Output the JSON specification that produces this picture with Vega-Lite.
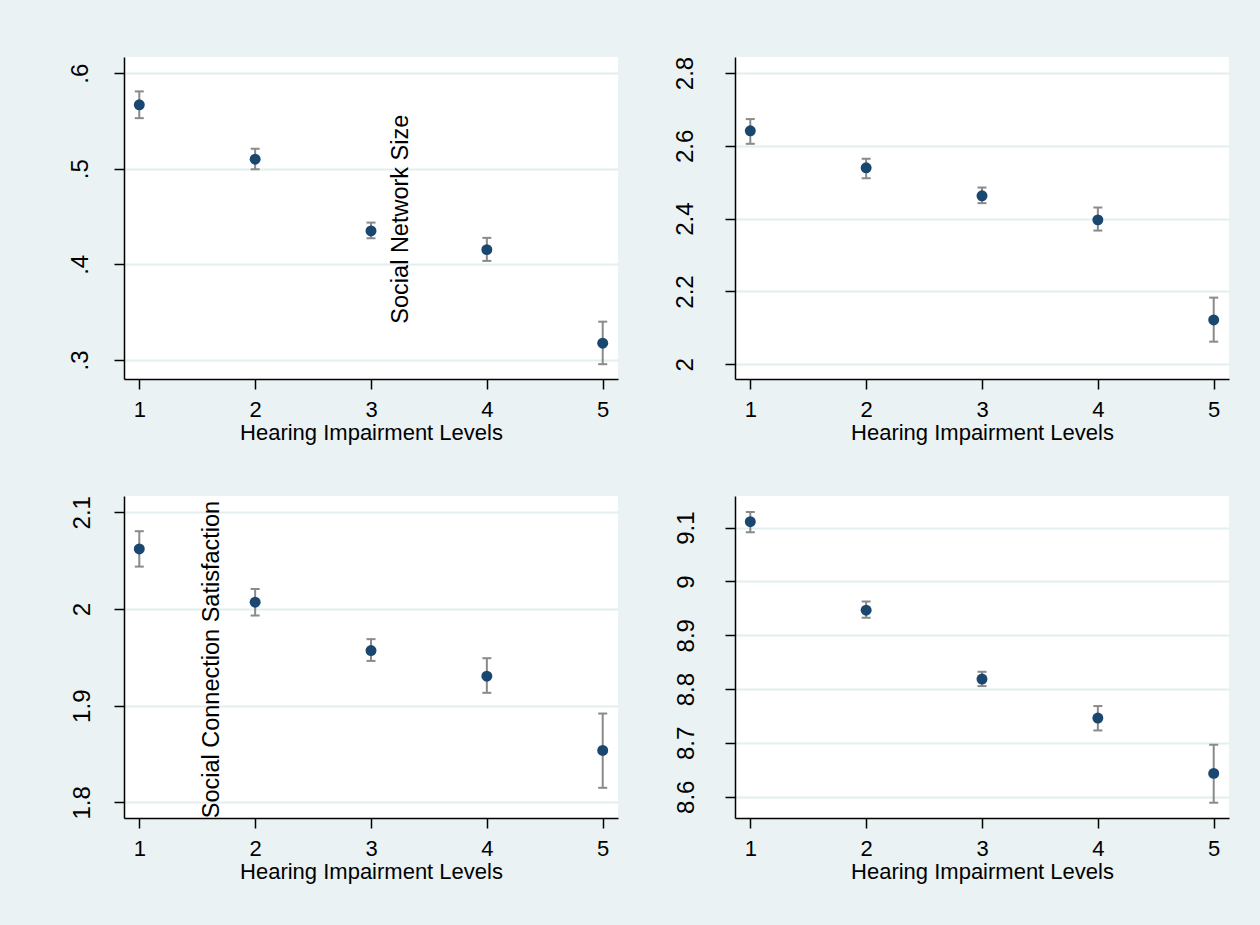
{
  "$schema": "https://vega.github.io/schema/vega-lite/v6.json",
  "background": "#eaf2f3",
  "autosize": {"type": "pad"},
  "padding": {"left": 67, "top": 56, "right": 32, "bottom": 46},
  "config": {
    "view": {"stroke": null, "fill": "white"},
    "font": "Liberation Sans",
    "axis": {
      "domainColor": "#000000",
      "domainWidth": 1.5,
      "tickColor": "#000000",
      "tickWidth": 1.5,
      "tickSize": 10,
      "labelColor": "#000000",
      "labelFont": "Liberation Sans",
      "titleFont": "Liberation Sans",
      "titleColor": "#000000",
      "titleFontWeight": "normal",
      "labelOverlap": false,
      "labelFlush": false
    }
  },
  "datasets": {
    "p1": [
      {"level": 1, "mean": 0.567, "lo": 0.553, "hi": 0.581},
      {"level": 2, "mean": 0.510, "lo": 0.4995, "hi": 0.521},
      {"level": 3, "mean": 0.435, "lo": 0.4273, "hi": 0.4437},
      {"level": 4, "mean": 0.4154, "lo": 0.4036, "hi": 0.4277},
      {"level": 5, "mean": 0.3175, "lo": 0.2955, "hi": 0.340}
    ],
    "p2": [
      {"level": 1, "mean": 2.6414, "lo": 2.6056, "hi": 2.6735},
      {"level": 2, "mean": 2.5397, "lo": 2.5113, "hi": 2.5644},
      {"level": 3, "mean": 2.4627, "lo": 2.4426, "hi": 2.4855},
      {"level": 4, "mean": 2.3967, "lo": 2.3673, "hi": 2.4306},
      {"level": 5, "mean": 2.1218, "lo": 2.0621, "hi": 2.1831}
    ],
    "p3": [
      {"level": 1, "mean": 2.0621, "lo": 2.0438, "hi": 2.0804},
      {"level": 2, "mean": 2.0070, "lo": 1.9932, "hi": 2.0207},
      {"level": 3, "mean": 1.9570, "lo": 1.9463, "hi": 1.9688},
      {"level": 4, "mean": 1.9305, "lo": 1.9133, "hi": 1.9491},
      {"level": 5, "mean": 1.8537, "lo": 1.8151, "hi": 1.8919}
    ],
    "p4": [
      {"level": 1, "mean": 9.1111, "lo": 9.0914, "hi": 9.1291},
      {"level": 2, "mean": 8.9467, "lo": 8.9324, "hi": 8.9627},
      {"level": 3, "mean": 8.8186, "lo": 8.8056, "hi": 8.8322},
      {"level": 4, "mean": 8.7462, "lo": 8.7232, "hi": 8.7685},
      {"level": 5, "mean": 8.6434, "lo": 8.5889, "hi": 8.6966}
    ]
  },
  "columns": 2,
  "spacing": 117,
  "bounds": "flush",
  "concat": [
    {
      "width": 494, "height": 322,
      "data": {"name": "p1"},
      "encoding": {
        "x": {"field": "level", "type": "quantitative",
          "scale": {"domain": [0.868, 5.132], "nice": false, "zero": false},
          "axis": {"values": [1, 2, 3, 4, 5], "format": "d", "labelFontSize": 22, "labelPadding": 10, "labelAngle": 0, "grid": false, "title": "Hearing Impairment Levels", "titleFontSize": 22, "titlePadding": 2}}
      },
      "layer": [
        {"mark": {"type": "rule", "color": "#8a8a8a", "strokeWidth": 2},
         "encoding": {
           "y": {"field": "lo", "type": "quantitative", "scale": {"domain": [0.280, 0.617], "nice": false, "zero": false},
             "axis": {"values": [0.3, 0.4, 0.5, 0.6], "labelExpr": "substring(format(datum.value, '.1f'), 1)", "labelAngle": 270, "labelAlign": "center", "labelBaseline": "alphabetic", "labelPadding": 27, "labelFontSize": 24, "grid": true, "gridColor": "#e4edf0", "gridWidth": 2, "title": null}},
           "y2": {"field": "hi"}}},
        {"mark": {"type": "tick", "orient": "horizontal", "color": "#8a8a8a", "size": 9, "thickness": 2, "opacity": 1},
         "encoding": {"y": {"field": "lo", "type": "quantitative", "scale": {"domain": [0.280, 0.617], "nice": false, "zero": false}}}},
        {"mark": {"type": "tick", "orient": "horizontal", "color": "#8a8a8a", "size": 9, "thickness": 2, "opacity": 1},
         "encoding": {"y": {"field": "hi", "type": "quantitative", "scale": {"domain": [0.280, 0.617], "nice": false, "zero": false}}}},
        {"mark": {"type": "point", "shape": "circle", "filled": true, "size": 120, "color": "#1a476f", "opacity": 1},
         "encoding": {"y": {"field": "mean", "type": "quantitative", "scale": {"domain": [0.280, 0.617], "nice": false, "zero": false}}}},
        {"data": {"values": [{"tx": 3.256, "ty": 0.4473, "label": "Social Network Size"}]},
         "mark": {"type": "text", "angle": 270, "align": "center", "baseline": "middle", "fontSize": 23.5, "color": "#000000", "font": "Liberation Sans"},
         "encoding": {
           "x": {"field": "tx", "type": "quantitative"},
           "y": {"field": "ty", "type": "quantitative", "scale": {"domain": [0.280, 0.617], "nice": false, "zero": false}},
           "text": {"field": "label"}}}
      ]
    },
    {
      "width": 494, "height": 322,
      "data": {"name": "p2"},
      "encoding": {
        "x": {"field": "level", "type": "quantitative",
          "scale": {"domain": [0.868, 5.132], "nice": false, "zero": false},
          "axis": {"values": [1, 2, 3, 4, 5], "format": "d", "labelFontSize": 22, "labelPadding": 10, "labelAngle": 0, "grid": false, "title": "Hearing Impairment Levels", "titleFontSize": 22, "titlePadding": 2}}
      },
      "layer": [
        {"mark": {"type": "rule", "color": "#8a8a8a", "strokeWidth": 2},
         "encoding": {
           "y": {"field": "lo", "type": "quantitative", "scale": {"domain": [1.9596, 2.844], "nice": false, "zero": false},
             "axis": {"values": [2, 2.2, 2.4, 2.6, 2.8], "format": "~g", "labelAngle": 270, "labelAlign": "center", "labelBaseline": "alphabetic", "labelPadding": 33, "labelFontSize": 24, "grid": true, "gridColor": "#e4edf0", "gridWidth": 2, "title": null,
               "encode": {"labels": {"update": {"dy": {"signal": "length(datum.label) == 1 ? 23 : 0"}}}}}},
           "y2": {"field": "hi"}}},
        {"mark": {"type": "tick", "orient": "horizontal", "color": "#8a8a8a", "size": 9, "thickness": 2, "opacity": 1},
         "encoding": {"y": {"field": "lo", "type": "quantitative", "scale": {"domain": [1.9596, 2.844], "nice": false, "zero": false}}}},
        {"mark": {"type": "tick", "orient": "horizontal", "color": "#8a8a8a", "size": 9, "thickness": 2, "opacity": 1},
         "encoding": {"y": {"field": "hi", "type": "quantitative", "scale": {"domain": [1.9596, 2.844], "nice": false, "zero": false}}}},
        {"mark": {"type": "point", "shape": "circle", "filled": true, "size": 120, "color": "#1a476f", "opacity": 1},
         "encoding": {"y": {"field": "mean", "type": "quantitative", "scale": {"domain": [1.9596, 2.844], "nice": false, "zero": false}}}}
      ]
    },
    {
      "width": 494, "height": 322,
      "data": {"name": "p3"},
      "encoding": {
        "x": {"field": "level", "type": "quantitative",
          "scale": {"domain": [0.868, 5.132], "nice": false, "zero": false},
          "axis": {"values": [1, 2, 3, 4, 5], "format": "d", "labelFontSize": 22, "labelPadding": 10, "labelAngle": 0, "grid": false, "title": "Hearing Impairment Levels", "titleFontSize": 22, "titlePadding": 2}}
      },
      "layer": [
        {"mark": {"type": "rule", "color": "#8a8a8a", "strokeWidth": 2},
         "encoding": {
           "y": {"field": "lo", "type": "quantitative", "scale": {"domain": [1.7839, 2.1168], "nice": false, "zero": false},
             "axis": {"values": [1.8, 1.9, 2, 2.1], "format": "~g", "labelAngle": 270, "labelAlign": "center", "labelBaseline": "alphabetic", "labelPadding": 25, "labelFontSize": 24, "grid": true, "gridColor": "#e4edf0", "gridWidth": 2, "title": null,
               "encode": {"labels": {"update": {"dy": {"signal": "length(datum.label) == 1 ? 17 : 0"}}}}}},
           "y2": {"field": "hi"}}},
        {"mark": {"type": "tick", "orient": "horizontal", "color": "#8a8a8a", "size": 9, "thickness": 2, "opacity": 1},
         "encoding": {"y": {"field": "lo", "type": "quantitative", "scale": {"domain": [1.7839, 2.1168], "nice": false, "zero": false}}}},
        {"mark": {"type": "tick", "orient": "horizontal", "color": "#8a8a8a", "size": 9, "thickness": 2, "opacity": 1},
         "encoding": {"y": {"field": "hi", "type": "quantitative", "scale": {"domain": [1.7839, 2.1168], "nice": false, "zero": false}}}},
        {"mark": {"type": "point", "shape": "circle", "filled": true, "size": 120, "color": "#1a476f", "opacity": 1},
         "encoding": {"y": {"field": "mean", "type": "quantitative", "scale": {"domain": [1.7839, 2.1168], "nice": false, "zero": false}}}},
        {"data": {"values": [{"tx": 1.624, "ty": 1.9477, "label": "Social Connection Satisfaction"}]},
         "mark": {"type": "text", "angle": 270, "align": "center", "baseline": "middle", "fontSize": 23.5, "color": "#000000", "font": "Liberation Sans"},
         "encoding": {
           "x": {"field": "tx", "type": "quantitative"},
           "y": {"field": "ty", "type": "quantitative", "scale": {"domain": [1.7839, 2.1168], "nice": false, "zero": false}},
           "text": {"field": "label"}}}
      ]
    },
    {
      "width": 494, "height": 322,
      "data": {"name": "p4"},
      "encoding": {
        "x": {"field": "level", "type": "quantitative",
          "scale": {"domain": [0.868, 5.132], "nice": false, "zero": false},
          "axis": {"values": [1, 2, 3, 4, 5], "format": "d", "labelFontSize": 22, "labelPadding": 10, "labelAngle": 0, "grid": false, "title": "Hearing Impairment Levels", "titleFontSize": 22, "titlePadding": 2}}
      },
      "layer": [
        {"mark": {"type": "rule", "color": "#8a8a8a", "strokeWidth": 2},
         "encoding": {
           "y": {"field": "lo", "type": "quantitative", "scale": {"domain": [8.5605, 9.1588], "nice": false, "zero": false},
             "axis": {"values": [8.6, 8.7, 8.8, 8.9, 9, 9.1], "format": "~g", "labelAngle": 270, "labelAlign": "center", "labelBaseline": "alphabetic", "labelPadding": 32, "labelFontSize": 24, "grid": true, "gridColor": "#e4edf0", "gridWidth": 2, "title": null,
               "encode": {"labels": {"update": {"dy": {"signal": "length(datum.label) == 1 ? 21 : 0"}}}}}},
           "y2": {"field": "hi"}}},
        {"mark": {"type": "tick", "orient": "horizontal", "color": "#8a8a8a", "size": 9, "thickness": 2, "opacity": 1},
         "encoding": {"y": {"field": "lo", "type": "quantitative", "scale": {"domain": [8.5605, 9.1588], "nice": false, "zero": false}}}},
        {"mark": {"type": "tick", "orient": "horizontal", "color": "#8a8a8a", "size": 9, "thickness": 2, "opacity": 1},
         "encoding": {"y": {"field": "hi", "type": "quantitative", "scale": {"domain": [8.5605, 9.1588], "nice": false, "zero": false}}}},
        {"mark": {"type": "point", "shape": "circle", "filled": true, "size": 120, "color": "#1a476f", "opacity": 1},
         "encoding": {"y": {"field": "mean", "type": "quantitative", "scale": {"domain": [8.5605, 9.1588], "nice": false, "zero": false}}}}
      ]
    }
  ]
}
